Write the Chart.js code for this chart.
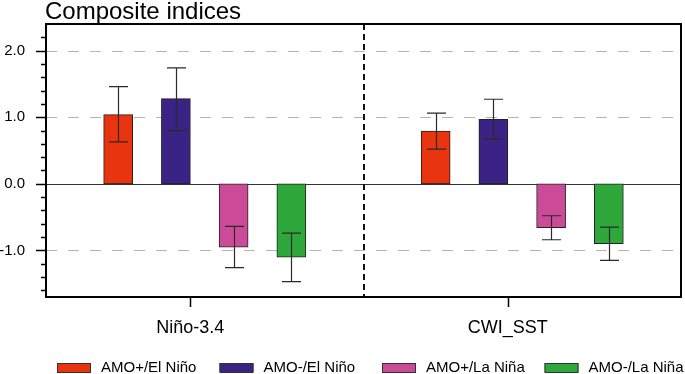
<!DOCTYPE html>
<html>
<head>
<meta charset="utf-8">
<script src="https://cdn.jsdelivr.net/npm/chart.js@4/dist/chart.umd.min.js"></script>
<style>
  html, body { margin: 0; padding: 0; background: #fff; }
  #wrap { width: 685px; height: 374px; position: relative; }
</style>
</head>
<body>
<div id="wrap"><canvas id="barChart"></canvas></div>
<script>
const categories = ['Niño-3.4', 'CWI_SST'];
const seriesNames = ['AMO+/El Niño', 'AMO-/El Niño', 'AMO+/La Niña', 'AMO-/La Niña'];
const seriesColors = ['#e8340f', '#3a2384', '#cc4b99', '#2fa83b'];

// composite value per category, one array per series
const amoPosElNino = [1.04, 0.79];
const amoNegElNino = [1.28, 0.97];
const amoPosLaNina = [-0.95, -0.66];
const amoNegLaNina = [-1.10, -0.90];

// error bar ends
const errLow = [
  [0.63, 0.52],
  [0.80, 0.67],
  [-1.26, -0.84],
  [-1.47, -1.15]
];
const errHigh = [
  [1.46, 1.06],
  [1.74, 1.27],
  [-0.64, -0.48],
  [-0.74, -0.65]
];

const yMajor = [-1, 0, 1, 2];

// layout on the x axis (0..22, one half per category)
const groupWidth = 11;
const barSlots = [2.5, 4.5, 6.5, 8.5];
const tickSlot = 5;

const seriesValues = [amoPosElNino, amoNegElNino, amoPosLaNina, amoNegLaNina];
const tickPos = categories.map((c, i) => i * groupWidth + tickSlot);

const datasets = seriesNames.map((name, s) => ({
  label: name,
  data: seriesValues[s].map((v, i) => ({ x: i * groupWidth + barSlots[s], y: v })),
  backgroundColor: seriesColors[s],
  borderColor: '#222',
  borderWidth: 1,
  borderSkipped: false,
  barThickness: 29,
  grouped: false
}));

const nclPlugin = {
  id: 'ncl',
  beforeDatasetsDraw(chart) {
    const { ctx, chartArea: a, scales: { x, y } } = chart;
    ctx.save();
    // dashed grid lines
    ctx.strokeStyle = '#b4b4b4';
    ctx.lineWidth = 1;
    ctx.setLineDash([11, 11]);
    yMajor.filter(v => v !== 0).forEach(v => {
      const py = Math.round(y.getPixelForValue(v)) + 0.5;
      ctx.beginPath();
      ctx.moveTo(a.left, py);
      ctx.lineTo(a.right, py);
      ctx.stroke();
    });
    // zero line
    ctx.setLineDash([]);
    ctx.strokeStyle = '#333';
    const zy = Math.round(y.getPixelForValue(0)) + 0.5;
    ctx.beginPath();
    ctx.moveTo(a.left, zy);
    ctx.lineTo(a.right, zy);
    ctx.stroke();
    // separator between the two indices
    ctx.strokeStyle = '#111';
    ctx.lineWidth = 2;
    ctx.setLineDash([6, 4]);
    const sx = Math.round(x.getPixelForValue(groupWidth));
    ctx.beginPath();
    ctx.moveTo(sx, a.top);
    ctx.lineTo(sx, a.bottom);
    ctx.stroke();
    ctx.restore();
  },
  afterDatasetsDraw(chart) {
    const { ctx, chartArea: a, scales: { x, y } } = chart;
    ctx.save();
    // error bars
    ctx.strokeStyle = '#2a2a2a';
    ctx.lineWidth = 1.2;
    seriesNames.forEach((n, s) => {
      categories.forEach((c, i) => {
        const px = Math.round(x.getPixelForValue(i * groupWidth + barSlots[s])) + 0.5;
        const lo = y.getPixelForValue(errLow[s][i]);
        const hi = y.getPixelForValue(errHigh[s][i]);
        ctx.beginPath();
        ctx.moveTo(px, lo);
        ctx.lineTo(px, hi);
        ctx.moveTo(px - 9.5, lo);
        ctx.lineTo(px + 9.5, lo);
        ctx.moveTo(px - 9.5, hi);
        ctx.lineTo(px + 9.5, hi);
        ctx.stroke();
      });
    });
    // frame
    ctx.strokeStyle = '#000';
    ctx.lineWidth = 2;
    ctx.strokeRect(a.left, a.top, a.right - a.left, a.bottom - a.top);
    // y tick marks
    ctx.lineWidth = 1.5;
    ctx.beginPath();
    for (let k = -8; k <= 12; k++) {
      const v = k * 0.2;
      if (v < y.min || v > y.max) continue;
      const py = Math.round(y.getPixelForValue(v)) + 0.5;
      const len = k % 5 === 0 ? 10 : 5;
      ctx.moveTo(a.left - len, py);
      ctx.lineTo(a.left, py);
    }
    // x tick marks
    tickPos.forEach(v => {
      const px = Math.round(x.getPixelForValue(v)) + 0.5;
      ctx.moveTo(px, a.bottom);
      ctx.lineTo(px, a.bottom + 10);
    });
    ctx.stroke();
    // title
    ctx.fillStyle = '#000';
    ctx.font = '24px "Liberation Sans", Arial, sans-serif';
    ctx.textAlign = 'left';
    ctx.textBaseline = 'alphabetic';
    ctx.fillText('Composite indices', a.left - 1, 18.5);
    // legend
    ctx.font = '15px "Liberation Sans", Arial, sans-serif';
    ctx.textBaseline = 'middle';
    chart.data.datasets.forEach((ds, s) => {
      const lx = 57 + s * 162.5;
      ctx.fillStyle = ds.backgroundColor;
      ctx.fillRect(lx, 363, 34, 9);
      ctx.strokeStyle = '#333';
      ctx.lineWidth = 1;
      ctx.strokeRect(lx + 0.5, 363.5, 33, 9);
      ctx.fillStyle = '#000';
      ctx.fillText(ds.label, lx + 44, 368);
    });
    ctx.restore();
  }
};

new Chart(document.getElementById('barChart'), {
  type: 'bar',
  data: { datasets: datasets },
  plugins: [nclPlugin],
  options: {
    responsive: true,
    maintainAspectRatio: false,
    animation: false,
    layout: { padding: { top: 24, right: 4, left: 0, bottom: 0 } },
    plugins: {
      legend: { display: false },
      tooltip: { enabled: false }
    },
    scales: {
      x: {
        type: 'linear',
        min: 0,
        max: 2 * groupWidth,
        offset: false,
        grid: { display: false, drawTicks: true, tickLength: 20 },
        border: { display: false },
        afterBuildTicks: scale => { scale.ticks = tickPos.map(v => ({ value: v })); },
        afterFit: scale => { scale.height = 77; },
        ticks: {
          autoSkip: false,
          maxRotation: 0,
          padding: 0,
          color: '#000',
          font: { size: 18, family: '"Liberation Sans", Arial, sans-serif' },
          callback: value => categories[tickPos.indexOf(value)]
        }
      },
      y: {
        min: -1.7,
        max: 2.4,
        grid: { display: false, drawTicks: true, tickLength: 21 },
        border: { display: false },
        afterBuildTicks: scale => { scale.ticks = yMajor.map(v => ({ value: v })); },
        afterFit: scale => { scale.width = 46; },
        ticks: {
          autoSkip: false,
          padding: 0,
          color: '#000',
          font: { size: 15, family: '"Liberation Sans", Arial, sans-serif' },
          callback: value => value.toFixed(1)
        }
      }
    }
  }
});
</script>
</body>
</html>
